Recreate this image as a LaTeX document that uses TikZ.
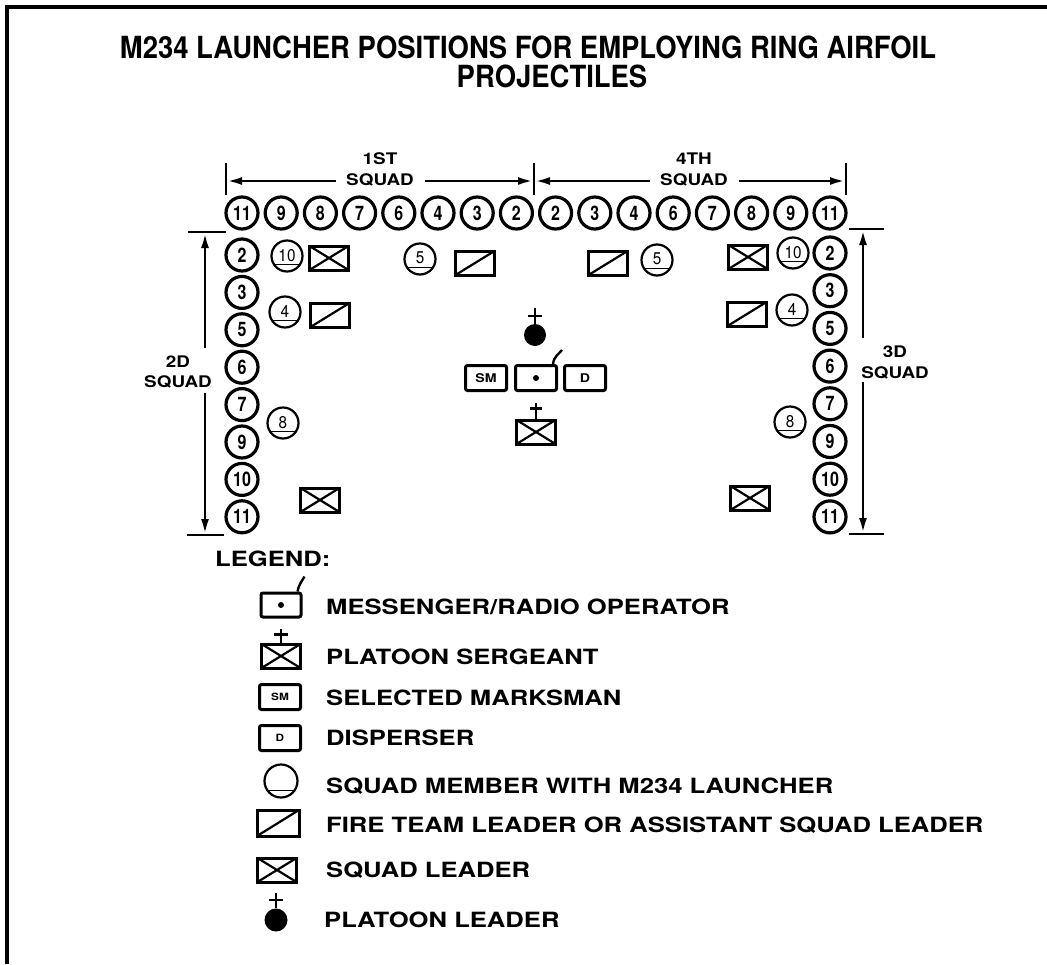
\documentclass[tikz,border=0pt]{standalone}
\usepackage{fontspec}
\setmainfont{TeX Gyre Heros}
\newfontfamily\titlefont{TeX Gyre Heros}[FakeStretch=0.9]
\newfontfamily\widefont{TeX Gyre Heros}[FakeStretch=1.18]
\newfontfamily\legfont{TeX Gyre Heros}[FakeStretch=1.22]
\newfontfamily\numfont{TeX Gyre Heros}[FakeStretch=0.8]
\newfontfamily\smallnumfont{TeX Gyre Heros}[FakeStretch=0.9]
\usetikzlibrary{arrows.meta}
\tikzset{
  mem/.style={circle, draw, line width=3.2, minimum size=32, inner sep=0,
    font=\numfont\bfseries\fontsize{20}{20}\selectfont},
  smem/.style={circle, draw, line width=2.2, minimum size=31, inner sep=0,
    font=\smallnumfont\fontsize{17}{17}\selectfont,
    path picture={\draw[line width=1.8]
      ([yshift=7pt]path picture bounding box.south west) --
      ([yshift=7pt]path picture bounding box.south east);}},
  box/.style={draw, line width=3.0, minimum width=39, minimum height=24, inner sep=0},
  sldr/.style={box, path picture={\draw[line width=2.2]
      (path picture bounding box.south west) -- (path picture bounding box.north east)
      (path picture bounding box.north west) -- (path picture bounding box.south east);}},
  ftl/.style={box, path picture={\draw[line width=2.2]
      (path picture bounding box.south west) -- (path picture bounding box.north east);}},
  rbox/.style={box, rounded corners=2, minimum width=41, minimum height=25,
    font=\widefont\bfseries\fontsize{12}{12}\selectfont},
  lrbox/.style={rbox, font=\widefont\bfseries\fontsize{10}{10}\selectfont},
  pldr/.style={circle, fill, minimum size=22, inner sep=0},
  dotn/.style={circle, fill, minimum size=6, inner sep=0},
  sqlab/.style={font=\widefont\bfseries\fontsize{16}{16}\selectfont, inner sep=0},
  legtxt/.style={font=\legfont\bfseries\fontsize{21}{21}\selectfont, anchor=west, inner sep=0},
  titletxt/.style={font=\titlefont\bfseries\fontsize{30.5}{30.5}\selectfont, inner sep=0},
  tick/.style={line width=2.8},
  arr/.style={line width=2.6, -{Latex[length=15pt,width=8pt]}},
  cross/.style={line width=2.2},
  frame/.style={line width=3.2}
}
\begin{document}
\begin{tikzpicture}[x=1pt,y=-1pt]
\useasboundingbox (0,0) rectangle (1047,964);
% frame
\draw[frame] (7,964) -- (7,7) -- (1047,7);
% title
\node[titletxt] (title1) at (528,47) {M234 LAUNCHER POSITIONS FOR EMPLOYING RING AIRFOIL};
\node[titletxt] (title2) at (552,76) {PROJECTILES};
% top brackets
\coordinate (tA1) at (226,163); \coordinate (tA2) at (226,195);
\coordinate (tB1) at (534,163); \coordinate (tB2) at (534,195);
\coordinate (tC1) at (846,163); \coordinate (tC2) at (846,195);
\draw[tick] (tA1) -- (tA2); \draw[tick] (tB1) -- (tB2); \draw[tick] (tC1) -- (tC2);
\node[sqlab] (s1a) at (380,159) {1ST};
\node[sqlab] (s1b) at (380,180) {SQUAD};
\node[sqlab] (s4a) at (694,159) {4TH};
\node[sqlab] (s4b) at (694,180) {SQUAD};
\coordinate (a1s) at (336,181); \coordinate (a1e) at (227,181);
\coordinate (a2s) at (425,181); \coordinate (a2e) at (533,181);
\coordinate (a3s) at (650,181); \coordinate (a3e) at (535,181);
\coordinate (a4s) at (739,181); \coordinate (a4e) at (845,181);
\draw[arr] (a1s) -- (a1e); \draw[arr] (a2s) -- (a2e);
\draw[arr] (a3s) -- (a3e); \draw[arr] (a4s) -- (a4e);
% left bracket
\coordinate (lT1) at (188,232); \coordinate (lT2) at (226,232);
\coordinate (lB1) at (187,535); \coordinate (lB2) at (224,535);
\draw[tick] (lT1) -- (lT2); \draw[tick] (lB1) -- (lB2);
\coordinate (l1s) at (205,348); \coordinate (l1e) at (205,233);
\coordinate (l2s) at (205,393); \coordinate (l2e) at (205,534);
\draw[arr] (l1s) -- (l1e); \draw[arr] (l2s) -- (l2e);
\node[sqlab] (s2a) at (178,362) {2D};
\node[sqlab] (s2b) at (178,382) {SQUAD};
% right bracket
\coordinate (rT1) at (849,229); \coordinate (rT2) at (884,229);
\coordinate (rB1) at (849,534); \coordinate (rB2) at (884,534);
\draw[tick] (rT1) -- (rT2); \draw[tick] (rB1) -- (rB2);
\coordinate (r1s) at (863,338); \coordinate (r1e) at (863,230);
\coordinate (r2s) at (863,382); \coordinate (r2e) at (863,533);
\draw[arr] (r1s) -- (r1e); \draw[arr] (r2s) -- (r2e);
\node[sqlab] (s3a) at (895,352) {3D};
\node[sqlab] (s3b) at (895,373) {SQUAD};
% top row
\foreach \n [count=\i from 0] in {11,9,8,7,6,4,3,2,2,3,4,6,7,8,9,11}
  \node[mem] (t\i) at ({242+\i*39.2},213) {\n};
% left column
\foreach \n [count=\i from 0] in {2,3,5,6,7,9,10,11}
  \node[mem] (l\i) at (242,{255+\i*37.4}) {\n};
% right column
\foreach \n [count=\i from 0] in {2,3,5,6,7,9,10,11}
  \node[mem] (r\i) at (830,{253+\i*37.7}) {\n};
% left inner symbols
\node[smem] (m10L) at (287,256) {\raisebox{2pt}{10}};
\node[sldr] (slL1) at (329,258) {};
\node[smem] (m5L) at (420,259) {\raisebox{2pt}{5}};
\node[ftl] (ftL1) at (475,263) {};
\node[smem] (m4L) at (285,312) {\raisebox{2pt}{4}};
\node[ftl] (ftL2) at (330,315) {};
\node[smem] (m8L) at (283,423) {\raisebox{2pt}{8}};
\node[sldr] (slL2) at (320,500) {};
% right inner symbols
\node[ftl] (ftR1) at (608,263) {};
\node[smem] (m5R) at (657,260) {\raisebox{2pt}{5}};
\node[sldr] (slR1) at (748,257) {};
\node[smem] (m10R) at (793,253) {\raisebox{2pt}{10}};
\node[ftl] (ftR2) at (747,314) {};
\node[smem] (m4R) at (792,310) {\raisebox{2pt}{4}};
\node[smem] (m8R) at (790,422) {\raisebox{2pt}{8}};
\node[sldr] (slR2) at (750,498) {};
% center group
\node[pldr] (pl) at (535,335) {};
\draw[cross] (pl.north) -- ++(0,-16) (pl.north) ++(-7,-8) -- ++(14,0);
\node[rbox] (sm) at (486,378) {SM};
\node[rbox] (msg) at (536,378) {};
\node[dotn] (msgdot) at (msg.center) {};
\draw[line width=2.4] ([xshift=-5pt]msg.north east) .. controls +(1,-8) and +(-3,4) .. ++(9,-14);
\node[rbox] (dsp) at (585,378) {D};
\node[sldr] (psg) at (536,432) {};
\draw[cross] (psg.north) -- ++(0,-16) (psg.north) ++(-6,-10) -- ++(12,0);
% legend
\node[legtxt] (leg) at (215,559) {LEGEND:};
\node[box, rounded corners=2, minimum width=40] (lmsg) at (281,605) {};
\node[dotn] (lmsgdot) at (lmsg.center) {};
\draw[line width=2.4] ([xshift=-5pt]lmsg.north east) .. controls +(1,-7) and +(-2,4) .. ++(7,-15);
\node[legtxt] (t1) at (326,607) {MESSENGER/RADIO OPERATOR};
\node[sldr] (lpsg) at (281,656) {};
\draw[cross] (lpsg.north) -- ++(0,-14) (lpsg.north) ++(-7,-8) -- ++(14,0);
\node[legtxt] (t2) at (326,657) {PLATOON SERGEANT};
\node[lrbox] (lsm) at (280,697) {SM};
\node[legtxt] (t3) at (326,698) {SELECTED MARKSMAN};
\node[lrbox] (ld) at (280,738) {D};
\node[legtxt] (t4) at (326,738) {DISPERSER};
\node[smem, minimum size=33] (lmem) at (281,781) {};
\node[legtxt] (t5) at (326,786) {SQUAD MEMBER WITH M234 LAUNCHER};
\node[ftl, minimum width=42, minimum height=26] (lftl) at (278,823) {};
\node[legtxt] (t6) at (326,825) {FIRE TEAM LEADER OR ASSISTANT SQUAD LEADER};
\node[sldr] (lsl) at (277,870) {};
\node[legtxt] (t7) at (326,870) {SQUAD LEADER};
\node[pldr, minimum size=23] (lpl) at (276,920) {};
\draw[cross] (lpl.north) -- ++(0,-15) (lpl.north) ++(-7,-8) -- ++(14,0);
\node[legtxt] (t8) at (324,920) {PLATOON LEADER};
\end{tikzpicture}
\end{document}
